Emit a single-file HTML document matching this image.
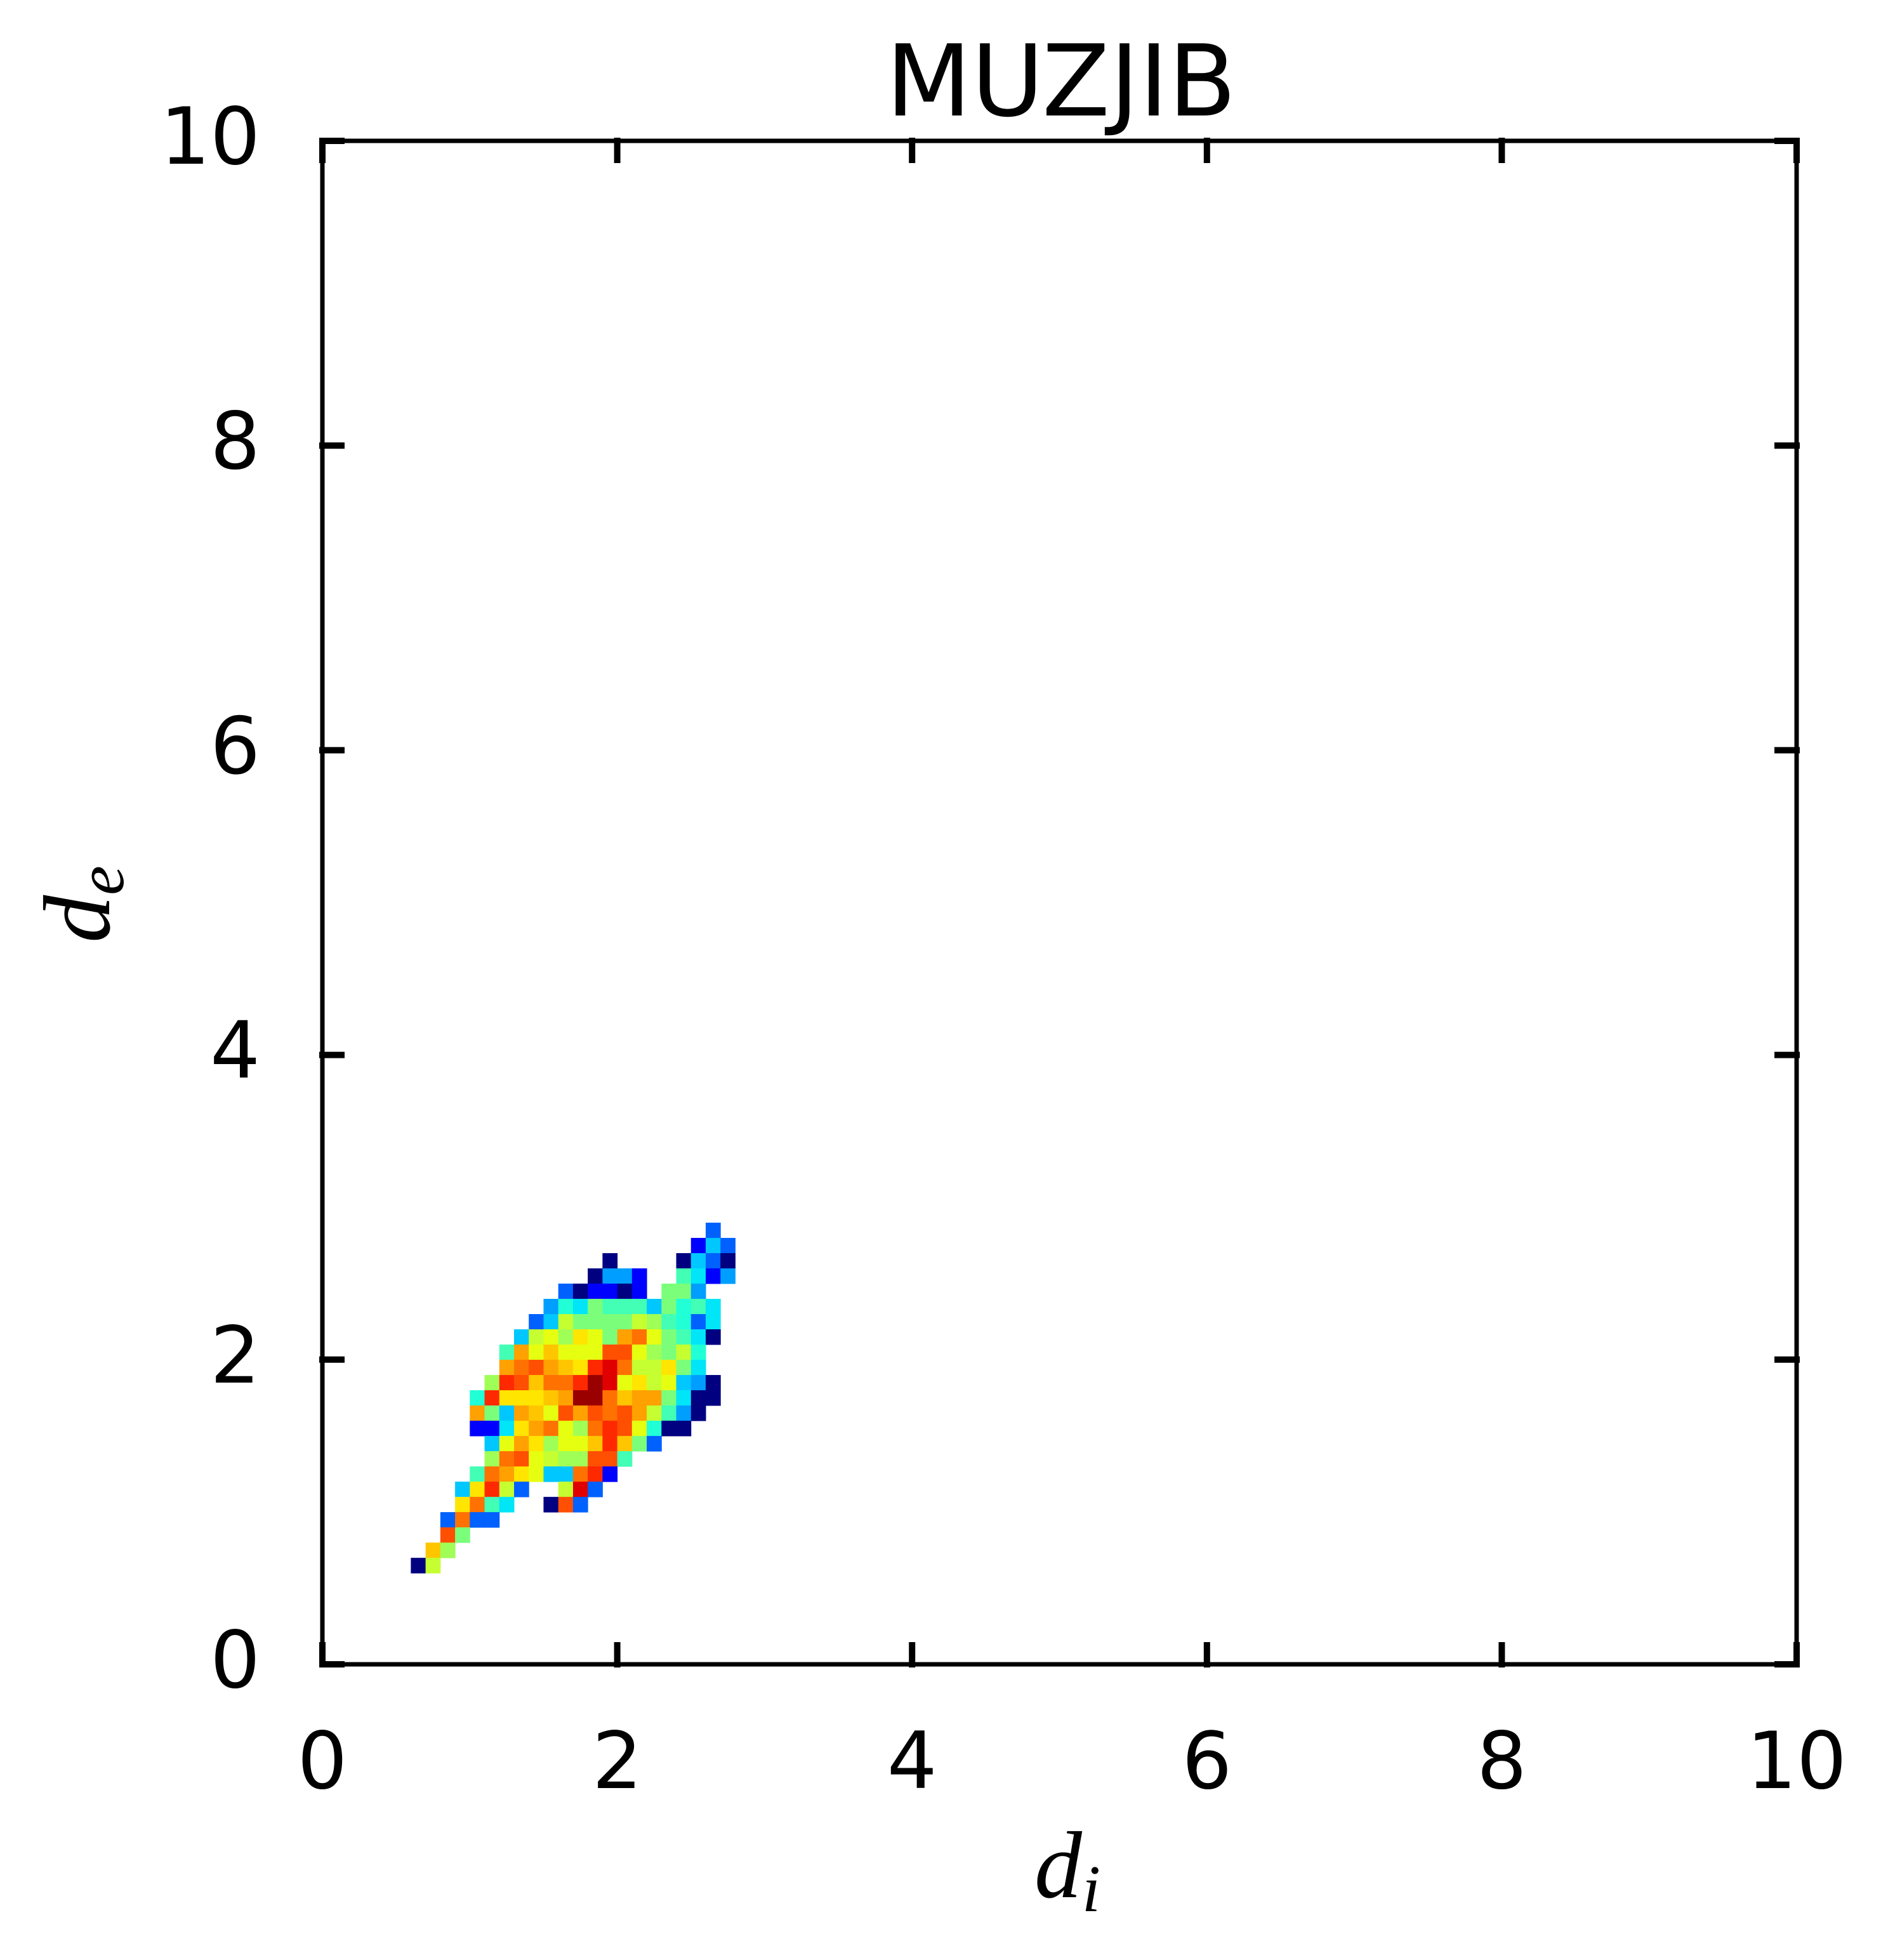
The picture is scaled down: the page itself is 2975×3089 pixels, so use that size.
<!DOCTYPE html>
<html><head><meta charset="utf-8"><style>
html,body{margin:0;padding:0;background:#fff;}
svg{display:block;}
</style></head><body>
<svg id="chart" width="2975" height="3089" viewBox="0 0 2975 3089" xmlns="http://www.w3.org/2000/svg">
<rect width="2975" height="3089" fill="#fff"/>
<g id="cells"></g>
<g id="axes"></g>
<text x="1672" y="182" text-anchor="middle" font-family="DejaVu Sans, Liberation Sans, sans-serif" font-size="156">MUZJIB</text>
<text x="1682" y="2990" text-anchor="middle" font-family="Liberation Serif, serif" font-style="italic" font-size="150">d<tspan font-size="105" dy="22">i</tspan></text>
<text transform="translate(172,1425) rotate(-90)" text-anchor="middle" font-family="Liberation Serif, serif" font-style="italic" font-size="150">d<tspan font-size="105" dy="22">e</tspan></text>
</svg>
<script>
// Data: histogram rows from top (row index j), each [startColumn, cells]; '.' = empty
const rowStarts = [20,19,13,12,10,9,8,7,6,6,5,4,4,4,5,5,4,3,3,2,2,1,0];
const rowCells = ["2","142","0....0420","0331..7513","201101.883","365877748675","24a8888a97625","4ab9cb8efb8750","7ebdbbbggb98a6","efgedchifaac85","9hgdffhjibcab430","6hcccdejjfdee8500","e84edbgegfgea730","115cefb9fhgb600","4bec9bbdhd82","9fgba99gg7","7fecb44fh1","4cha2..ai2","cf75..0g2","2f22","g8","d9","0a"];
const levelKeys = "0123456789abcdefghij";
const levelValues = [0.0,0.11,0.22,0.28,0.32,0.35,0.39,0.43,0.50,0.545,0.59,0.63,0.667,0.70,0.74,0.79,0.826,0.867,0.916,0.977];
const xTicks = [0,2,4,6,8,10];
const yTicks = [0,2,4,6,8,10];
const binX0 = 0.6, binW = 0.1, binYTop = 2.899, binH = 0.1;

const X0=508, X1=2831, Y0=2623, Y1=222;
const sx = v => X0 + (X1-X0)*v/10;
const sy = v => Y0 - (Y0-Y1)*v/10;
function seg(pts,v){
  for(let i=1;i<pts.length;i++){
    if(v<=pts[i][0]){const [a,ya]=pts[i-1],[b,yb]=pts[i];return ya+(yb-ya)*(v-a)/(b-a);}
  }
  return pts[pts.length-1][1];
}
function jet(v){
  const r=seg([[0,0],[0.35,0],[0.66,1],[0.89,1],[1,0.5]],v);
  const g=seg([[0,0],[0.125,0],[0.375,1],[0.64,1],[0.91,0],[1,0]],v);
  const b=seg([[0,0.5],[0.11,1],[0.34,1],[0.65,0],[1,0]],v);
  return `rgb(${Math.round(r*255)},${Math.round(g*255)},${Math.round(b*255)})`;
}
const NS="http://www.w3.org/2000/svg";
const cells=document.getElementById('cells');
rowCells.forEach((s,j)=>{
  for(let i=0;i<s.length;i++){
    const ch=s[i]; if(ch==='.') continue;
    const k=rowStarts[j]+i;
    const v=levelValues[levelKeys.indexOf(ch)];
    const xl=binX0+binW*k, yt=binYTop-binH*j;
    const r=document.createElementNS(NS,'rect');
    
    
    const px=sx(xl), py=sy(yt);
    r.setAttribute('x',px); r.setAttribute('y',py);
    r.setAttribute('width',sx(xl+binW)-px+0.5);
    r.setAttribute('height',sy(yt-binH)-py+0.5);
    r.setAttribute('fill',jet(v));
    cells.appendChild(r);
  }
});
const axes=document.getElementById('axes');
function line(x1,y1,x2,y2,w,name){
  const l=document.createElementNS(NS,'line');
  
  
  l.setAttribute('x1',x1);l.setAttribute('y1',y1);l.setAttribute('x2',x2);l.setAttribute('y2',y2);
  l.setAttribute('stroke','#000');l.setAttribute('stroke-width',w);l.setAttribute('stroke-linecap','square');
  axes.appendChild(l);
}
function text(x,y,s,anchor,name){
  const t=document.createElementNS(NS,'text');
  
  
  t.setAttribute('x',x);t.setAttribute('y',y);t.setAttribute('text-anchor',anchor);
  t.setAttribute('font-family','DejaVu Sans, Liberation Sans, sans-serif');
  t.setAttribute('font-size','124');
  t.textContent=s; axes.appendChild(t);
}
line(X0,Y0,X1,Y0,7,'x-axis-line');
line(X0,Y1,X1,Y1,7,'top-spine');
line(X0,Y0,X0,Y1,7,'y-axis-line');
line(X1,Y0,X1,Y1,7,'right-spine');
xTicks.forEach(v=>{
  const x=sx(v);
  line(x,Y0,x,Y0-30,10,'x-tick');
  line(x,Y1,x,Y1+30,10,'x-tick-top');
  text(x,2818,String(v),'middle','x-tick-label');
});
yTicks.forEach(v=>{
  const y=sy(v);
  line(X0,y,X0+30,y,10,'y-tick');
  line(X1,y,X1-30,y,10,'y-tick-right');
  text(410,y+36,String(v),'end','y-tick-label');
});
</script>
</body></html>
